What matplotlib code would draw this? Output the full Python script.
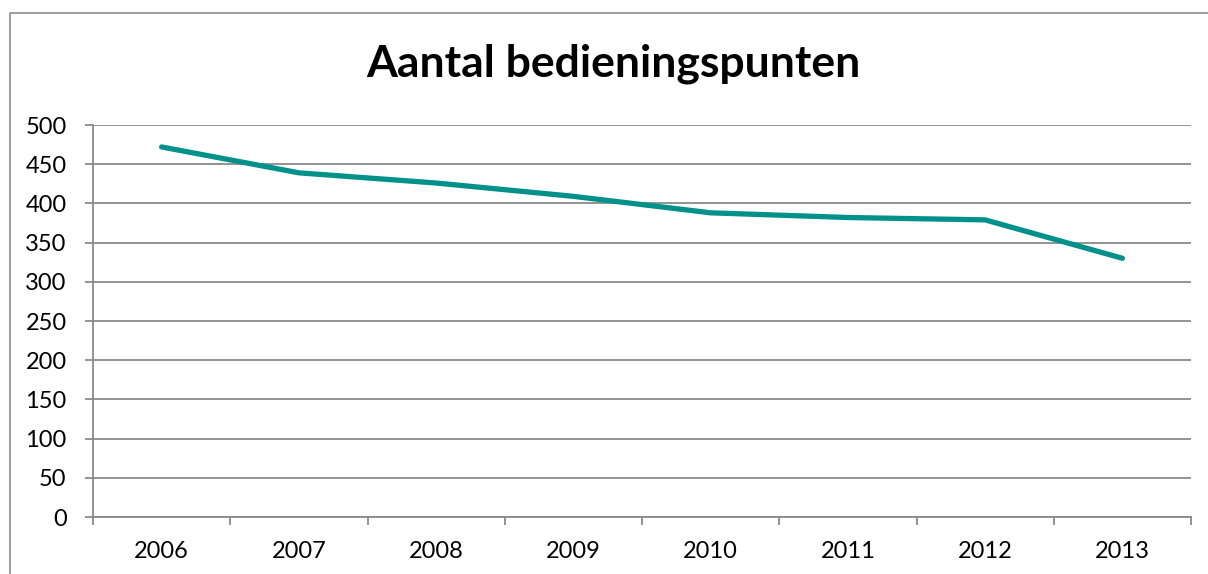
import matplotlib
matplotlib.use("Agg")
import matplotlib.pyplot as plt
from matplotlib.lines import Line2D

years = ["2006", "2007", "2008", "2009", "2010", "2011", "2012", "2013"]
punten = [472, 439, 426, 409, 388, 382, 379, 330]
yticks = [0, 50, 100, 150, 200, 250, 300, 350, 400, 450, 500]

plt.rcParams["font.family"] = ["Lato", "DejaVu Sans"]

fig = plt.figure(figsize=(12.08, 5.74), dpi=100)
# chart border: only the left and top edges are visible in the reference
bx, by = 10 / 1208, 1 - 13 / 574
fig.lines.append(Line2D([bx, bx, 1.01], [-0.01, by, by], transform=fig.transFigure,
                        color="#8c8c8c", linewidth=1.2))

ax = fig.add_axes([93 / 1208, 1 - 517 / 574, (1191 - 93) / 1208, (517 - 125) / 574])
x = list(range(len(years)))
ax.plot(x, punten, color="#00918a", linewidth=3.8, solid_capstyle="round",
        solid_joinstyle="round", zorder=3)

ax.set_xlim(-0.5, len(years) - 0.5)
ax.set_ylim(0, 500)
ax.set_yticks(yticks)
ax.set_xticks(x)
ax.set_xticklabels(years)
ax.set_xticks([i - 0.5 for i in range(len(years) + 1)], minor=True)

ax.grid(axis="y", color="#8a8a8a", linewidth=1.3)
ax.set_axisbelow(True)
for s in ["top", "right"]:
    ax.spines[s].set_visible(False)
for s in ["left", "bottom"]:
    ax.spines[s].set_color("#8a8a8a")
    ax.spines[s].set_linewidth(1.3)

ax.tick_params(axis="y", length=6, width=1.3, color="#8a8a8a", pad=13, labelsize=17)
ax.tick_params(axis="x", which="major", length=0, pad=17, labelsize=17)
ax.tick_params(axis="x", which="minor", length=6, width=1.3, color="#8a8a8a")

fig.text(613 / 1208, 1 - 64 / 574, "Aantal bedieningspunten", ha="center", va="center",
         fontsize=32, fontweight="bold")

fig.savefig("out.png", dpi=100)
